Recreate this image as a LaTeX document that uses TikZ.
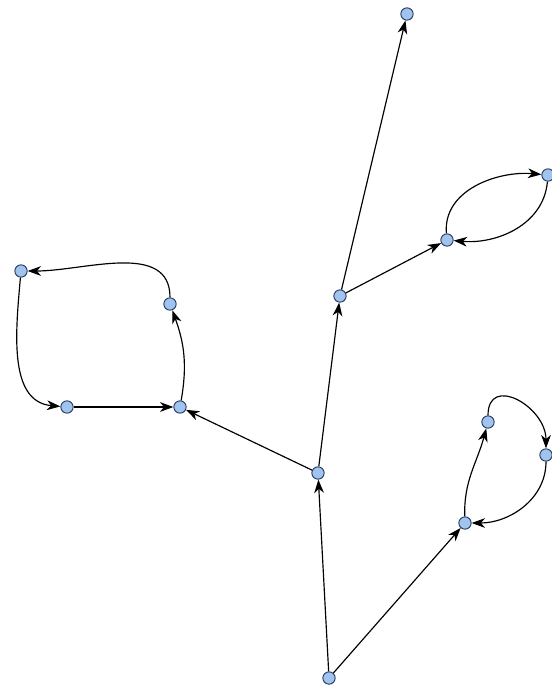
\documentclass[tikz,border=0pt]{standalone}
\usepackage{tikz}
\usetikzlibrary{arrows.meta}

\definecolor{vertfill}{RGB}{160,196,238}
\definecolor{vertline}{RGB}{38,58,96}

\begin{document}
\begin{tikzpicture}[x=0.03cm, y=-0.03cm,
    vert/.style={circle, draw=vertline, fill=vertfill, line width=0.8pt,
                 minimum size=0.37cm, inner sep=0pt},
    edge/.style={line width=1pt, -{Stealth[length=4mm, width=2.9mm, inset=1.2mm]}}]

  % --- Frame ---
  \useasboundingbox (0,0) rectangle (551,693);

  % --- Vertices ---
  \node[vert] (top)    at (407, 14)  {};
  \node[vert] (rtop)   at (548,175)  {};
  \node[vert] (rmid)   at (447,240)  {};
  \node[vert] (stem)   at (340,296)  {};
  \node[vert] (ltop)   at (21,271)   {};
  \node[vert] (lup)    at (170,304)  {};
  \node[vert] (llow)   at (67,407)   {};
  \node[vert] (lbase)  at (180,407)  {};
  \node[vert] (fork)   at (318,473)  {};
  \node[vert] (bup)    at (488,422)  {};
  \node[vert] (bright) at (546,455)  {};
  \node[vert] (bbase)  at (465,523)  {};
  \node[vert] (root)   at (329,678)  {};

  % --- Trunk ---
  \draw[edge] (root) -- (fork);
  \draw[edge] (root) -- (bbase);
  \draw[edge] (fork) -- (stem);
  \draw[edge] (fork) -- (lbase);
  \draw[edge] (stem) -- (top);
  \draw[edge] (stem) -- (rmid);

  % --- Upper right loop ---
  \draw[edge] (rmid) to[out=95, in=175] (rtop);
  \draw[edge] (rtop) to[out=-95, in=-5] (rmid);

  % --- Left loop ---
  \draw[edge] (lbase) to[out=80, in=-70] (lup);
  \draw[edge] (lup) to[out=90, in=0] (ltop);
  \draw[edge] (ltop) to[out=-95, in=175] (llow);
  \draw[edge] (llow) -- (lbase);

  % --- Lower right loop ---
  \draw[edge] (bbase) to[out=92, in=-105] (bup);
  \draw[edge] (bup) to[out=90, in=90, looseness=1.6] (bright);
  \draw[edge] (bright) to[out=-90, in=0] (bbase);

\end{tikzpicture}
\end{document}
